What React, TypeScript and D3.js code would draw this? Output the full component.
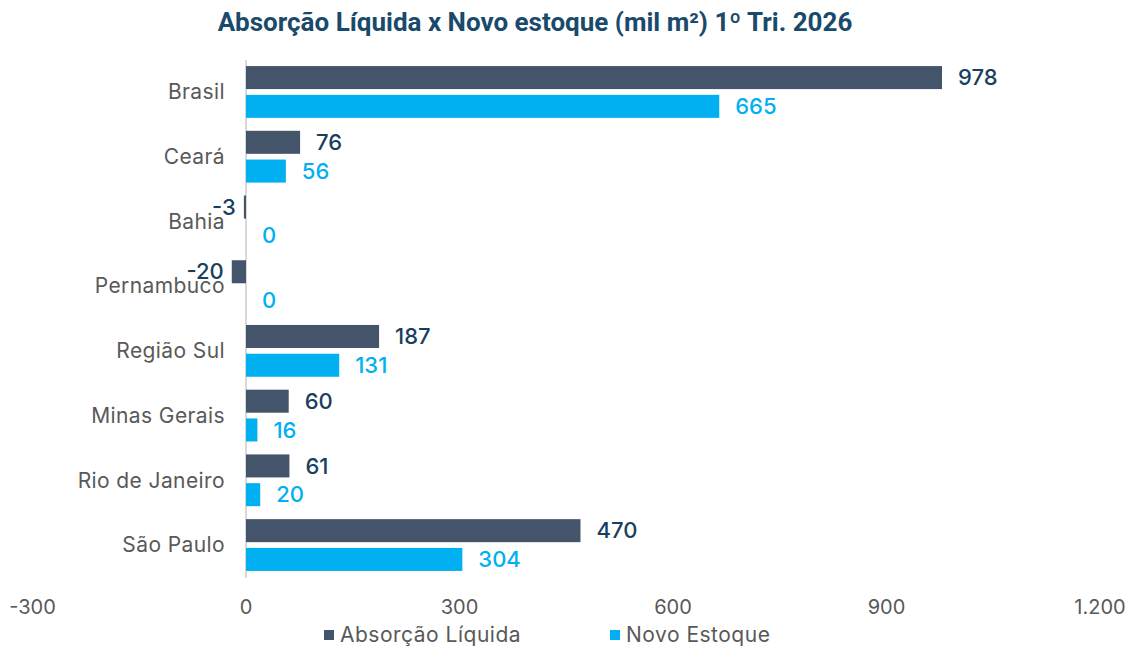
import React from "react";
import * as d3 from "d3";

const categories = ["Brasil", "Ceará", "Bahia", "Pernambuco", "Região Sul", "Minas Gerais", "Rio de Janeiro", "São Paulo"];
const absorcao = [978, 76, -3, -20, 187, 60, 61, 470];
const novoEstoque = [665, 56, 0, 0, 131, 16, 20, 304];
const xTicks = [-300, 0, 300, 600, 900, 1200];
const seriesNames = ["Absorção Líquida", "Novo Estoque"];
const colors = ["#44546a", "#00b0f0"];
const labelColors = ["#17405f", "#00b0f0"];

const W = 1136;
const H = 648;
const font = "Inter, 'Noto Sans', sans-serif";
const titleFont = "Roboto, sans-serif";

const fmt = (v: number) => (Math.abs(v) >= 1000 ? d3.format(",")(v).replace(/,/g, ".") : String(v));

export default function App() {
  const x = d3.scaleLinear().domain([-300, 1200]).range([32.5, 1100]);
  const y = d3.scaleBand<string>().domain(categories).range([59.6, 577.4]).paddingInner(0.2).paddingOuter(0.1);
  const sub = d3.scaleBand<number>().domain([0, 1]).range([0, y.bandwidth()]).paddingInner(0.2);
  const series = [absorcao, novoEstoque];

  return (
    <svg width={W} height={H} style={{ position: "absolute", left: 0, top: 0, background: "#fff" }}>
      <text x={535} y={31} textAnchor="middle" fontFamily={titleFont} fontWeight={700} fontSize={26} fill="#1a4a6b">
        Absorção Líquida x Novo estoque (mil m²) 1º Tri. 2026
      </text>
      <line x1={x(0)} x2={x(0)} y1={60} y2={578} stroke="#d9d9d9" strokeWidth={2} />
      {categories.map((c) => (
        <text key={c} x={225} y={y(c)! + y.bandwidth() / 2} dy="0.35em" textAnchor="end" fontFamily={font} fontSize={21} letterSpacing={0.4} fill="#595959">
          {c}
        </text>
      ))}
      {series.map((vals, si) =>
        vals.map((v, i) => {
          const c = categories[i];
          const by = y(c)! + sub(si)!;
          const bh = sub.bandwidth();
          const x0 = x(Math.min(0, v));
          const x1 = x(Math.max(0, v));
          const end = v < 0 ? x(v) - 8 : x(v) + 16;
          return (
            <g key={si + "-" + i}>
              {v !== 0 && <rect x={x0} y={by} width={x1 - x0} height={bh} fill={colors[si]} />}
              <text x={end} y={by + bh / 2} dy="0.35em" textAnchor={v < 0 ? "end" : "start"} fontFamily={font} fontSize={22} fontWeight={500} fill={labelColors[si]}>
                {fmt(v)}
              </text>
            </g>
          );
        })
      )}
      {xTicks.map((t) => (
        <text key={t} x={x(t)} y={614} textAnchor="middle" fontFamily={font} fontSize={20} fill="#595959">
          {fmt(t)}
        </text>
      ))}
      {seriesNames.map((n, i) => {
        const lx = [324, 610][i];
        return (
          <g key={n}>
            <rect x={lx} y={630} width={10} height={10} fill={colors[i]} />
            <text x={lx + 16} y={642} fontFamily={font} fontSize={21} letterSpacing={0.5} fill="#595959">
              {n}
            </text>
          </g>
        );
      })}
    </svg>
  );
}
